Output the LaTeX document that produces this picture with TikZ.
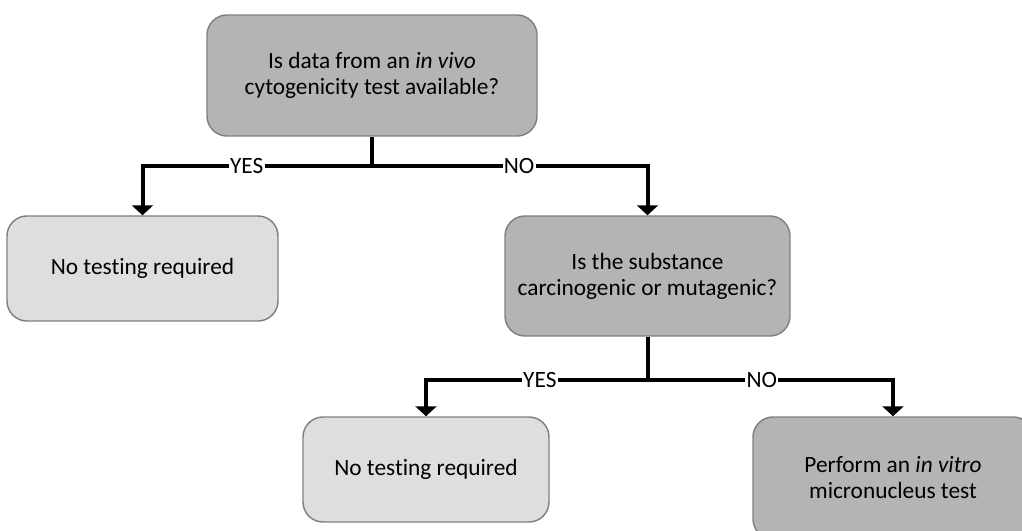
\documentclass[tikz,border=0pt]{standalone}
\usepackage{fontspec}
\setmainfont[Ligatures=NoCommon]{Carlito}
\usetikzlibrary{arrows.meta}
\definecolor{boxdark}{RGB}{180,180,180}
\definecolor{boxlight}{RGB}{222,222,222}
\definecolor{boxline}{RGB}{128,128,128}
\tikzset{
  question/.style={draw=boxline, line width=1.1pt, fill=boxdark, rounded corners=15pt,
    align=center, font=\fontsize{17.5}{19.5}\selectfont, inner sep=2pt},
  answer/.style={question, fill=boxlight},
  conn/.style={line width=3pt},
  lbl/.style={fill=white, inner xsep=1pt, inner ysep=0.5pt, font=\fontsize{17.5}{19}\selectfont}
}
\begin{document}
\begin{tikzpicture}[x=0.75pt, y=-0.75pt, >={Triangle[width=15.75pt,length=7.5pt]}]
                    \useasboundingbox (0,0) rectangle (1022,531);
                    % Top question
                    \node[question, minimum width=247.5pt, minimum height=90.75pt] (vivo) at (372,75.5)
                        {Is data from an \textit{in vivo}\\cytogenicity test available?};
                    % First answers
                    \node[answer, minimum width=203.25pt, minimum height=78.75pt] (notest1) at (142.5,268.5)
                        {No testing required};
                    \node[question, minimum width=213.75pt, minimum height=90pt] (carc) at (647.5,276)
                        {Is the substance\\carcinogenic or mutagenic?};
                    % Second answers
                    \node[answer, minimum width=184.5pt, minimum height=78.75pt] (notest2) at (426,469.5)
                        {No testing required};
                    \node[question, minimum width=210pt, minimum height=91.5pt] (micro) at (893,478)
                        {Perform an \textit{in vitro}\\micronucleus test};
                    % Top split
                    \coordinate (split1) at (vivo.south |- 0,166);
                    \draw[conn] (vivo.south) -- (split1);
                    \draw[conn, ->] (split1) -| node[lbl, pos=0.273] (yes1) {YES} (notest1.north);
                    \draw[conn, ->] (split1) -| node[lbl, pos=0.267] (no1) {NO} (carc.north);
                    % Second split
                    \coordinate (split2) at (carc.south |- 0,380);
                    \draw[conn] (carc.south) -- (split2);
                    \draw[conn, ->] (split2) -| node[lbl, pos=0.243] (yes2) {YES} (notest2.north);
                    \draw[conn, ->] (split2) -| node[lbl, pos=0.233] (no2) {NO} (micro.north);
                \end{tikzpicture}
\end{document}
